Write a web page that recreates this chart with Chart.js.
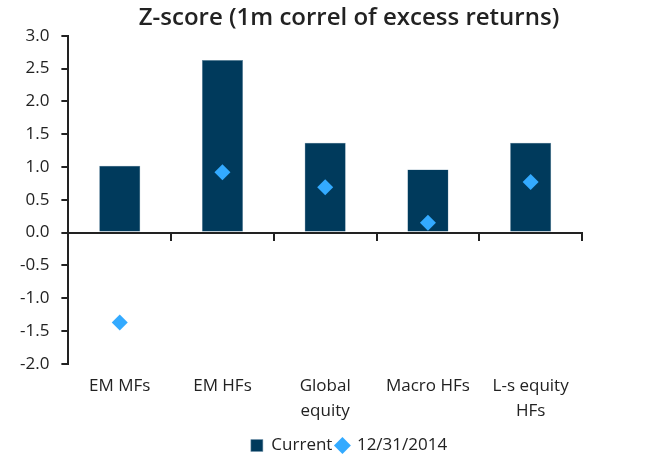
<!DOCTYPE html>
<html>
<head>
<meta charset="utf-8">
<script src="https://cdn.jsdelivr.net/npm/chart.js@4"></script>
<style>
  body { margin: 0; background: #fff; }
  #wrap { width: 660px; height: 464px; }
</style>
</head>
<body>
<div id="wrap"><canvas id="myChart"></canvas></div>
<script>
const categorias = ["EM MFs", "EM HFs", ["Global", "equity"], "Macro HFs", ["L-s equity", "HFs"]];
const actual = [1.02, 2.63, 1.37, 0.96, 1.37];
const fin2014 = [-1.37, 0.92, 0.69, 0.15, 0.77];
const yTicks = [-2.0, -1.5, -1.0, -0.5, 0.0, 0.5, 1.0, 1.5, 2.0, 2.5, 3.0];

const fuente = "'Open Sans', 'Noto Sans', sans-serif";
const texto = "#222222";

const chart = new Chart("myChart", {
    type: "bar",
    data: {
        labels: categorias,
        datasets: [
            {
                label: "Current",
                data: actual,
                backgroundColor: "#003a5c",
                borderColor: "#6f93aa",
                borderWidth: 0.5,
                barPercentage: 0.4,
                categoryPercentage: 1,
                pointStyle: "rect",
                order: 2
            },
            {
                label: "12/31/2014",
                type: "line",
                data: fin2014,
                showLine: false,
                pointStyle: "rectRot",
                pointRadius: 8,
                pointHoverRadius: 8,
                backgroundColor: "#33aaff",
                borderColor: "#33aaff",
                borderWidth: 0,
                order: 1
            }
        ]
    },
    options: {
        responsive: true,
        maintainAspectRatio: false,
        animation: false,
        // right padding below zero so title/legend sit a bit right, as in the original
        layout: { padding: { left: 8, right: -30, top: 4, bottom: 0 } },
        plugins: {
            title: {
                display: true,
                text: "Z-score (1m correl of excess returns)",
                color: texto,
                font: { family: fuente, size: 24, weight: "600" },
                padding: { top: 0, bottom: 3 }
            },
            legend: {
                position: "bottom",
                labels: {
                    usePointStyle: true,
                    boxWidth: 12,
                    boxHeight: 12,
                    padding: 4,
                    color: texto,
                    font: { family: fuente, size: 17 },
                    sort: (a, b) => a.datasetIndex - b.datasetIndex
                }
            },
            tooltip: { enabled: false }
        },
        scales: {
            x: {
                position: { y: 0 },
                ticks: { display: false },
                grid: {
                    offset: true,
                    drawOnChartArea: false,
                    drawTicks: true,
                    tickLength: 7,
                    color: (ctx) => (ctx.index === 0 || ctx.index === categorias.length) ? "rgba(0,0,0,0)" : "#222",
                    lineWidth: 2
                },
                border: { color: "#222", width: 2 }
            },
            x2: {
                type: "category",
                position: "bottom",
                labels: categorias,
                offset: true,
                grid: { display: false, drawTicks: false },
                border: { display: false },
                ticks: {
                    color: texto,
                    maxRotation: 0,
                    autoSkip: false,
                    padding: 10,
                    font: { family: fuente, size: 17, lineHeight: 1.45 }
                }
            },
            y: {
                min: -2,
                max: 3,
                afterBuildTicks: (eje) => {
                    eje.ticks = yTicks.map((v) => ({ value: v }));
                },
                grid: {
                    drawOnChartArea: false,
                    tickLength: 7,
                    color: "#222",
                    lineWidth: 2
                },
                border: { color: "#222", width: 2 },
                ticks: {
                    color: texto,
                    padding: 12,
                    font: { family: fuente, size: 17 },
                    callback: (v) => Number(v).toFixed(1)
                }
            },
            margen: {
                type: "linear",
                position: "right",
                ticks: { display: false },
                grid: { display: false },
                border: { display: false },
                afterFit: (eje) => { eje.width = 108; }
            }
        }
    }
});
</script>
</body>
</html>
